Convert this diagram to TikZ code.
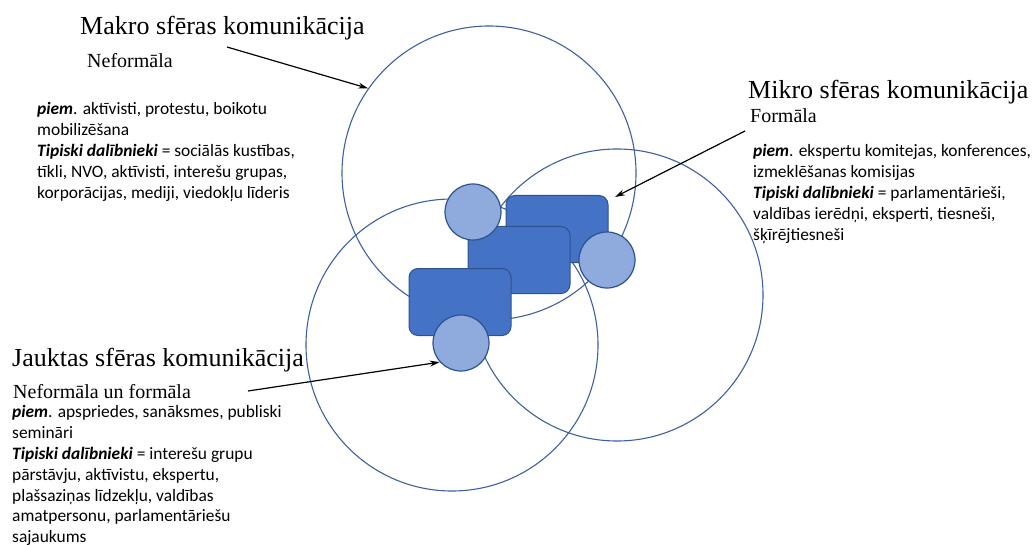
\documentclass[tikz,border=0pt]{standalone}
\usepackage{fontspec}
\setmainfont{Liberation Serif}
\newfontfamily\bodyfont{Carlito}
\usetikzlibrary{arrows.meta}
\definecolor{ringblue}{RGB}{62,96,160}
\definecolor{cardblue}{HTML}{4472C4}
\definecolor{bubbleblue}{HTML}{8FAADC}
\definecolor{edgeblue}{HTML}{2F528F}
\tikzset{
    sphere/.style={
        draw=ringblue,line width=1.1pt,
        circle,inner sep=0,minimum size=#1
    },
    card/.style={
        draw=edgeblue,line width=1pt,fill=cardblue,
        rounded corners=9pt,
        minimum width=102pt,minimum height=67pt
    },
    bubble/.style={
        draw=edgeblue,line width=1.2pt,fill=bubbleblue,
        circle,inner sep=0,minimum size=56pt
    },
    heading/.style={anchor=base west,inner sep=0,font=\fontsize{26}{30}\selectfont},
    subheading/.style={anchor=base west,inner sep=0,font=\fontsize{20}{24}\selectfont},
    notes/.style={
        anchor=north west,inner sep=0,align=left,
        font=\bodyfont\fontsize{17.4}{20.9}\selectfont
    },
    >={Stealth[length=10pt,width=6pt]}
}

\begin{document}
\begin{tikzpicture}[x=1pt,y=-1pt]
\useasboundingbox (0,0) rectangle (1032,545);
\node[sphere=294pt] (makro) at (489,173) {};
\node[sphere=292pt] (mikro) at (617,295) {};
\node[sphere=292pt] (jaukta) at (452,345) {};
% cards first, bubbles on top
\foreach \i/\x/\y in {1/557/229,2/519/260,3/460/302}
    \node[card] (card_\i) at (\x,\y) {};
\foreach \i/\x/\y in {1/473/212,2/607/260,3/461/343}
    \node[bubble] (bubble_\i) at (\x,\y) {};

\node[heading] (makro_title) at (80,35) {Makro sfēras komunikācija};
\node[subheading] (makro_sub) at (87,68) {Neformāla};
\node[notes] (makro_notes) at (37,102) {\textbf{\textit{piem}}. aktīvisti, protestu, boikotu\\
mobilizēšana\\
\textbf{\textit{Tipiski dalībnieki}} = sociālās kustības,\\
tīkli, NVO, aktīvisti, interešu grupas,\\
korporācijas, mediji, viedokļu līderis};

\node[heading] (mikro_title) at (748,99) {Mikro sfēras komunikācija};
\node[subheading] (mikro_sub) at (750,123) {Formāla};
\node[notes] (mikro_notes) at (753,144) {\textbf{\textit{piem}}. ekspertu komitejas, konferences,\\
izmeklēšanas komisijas\\
\textbf{\textit{Tipiski dalībnieki}} = parlamentārieši,\\
valdības ierēdņi, eksperti, tiesneši,\\
šķīrējtiesneši};

\node[heading] (jaukta_title) at (12,366) {Jauktas sfēras komunikācija};
\node[subheading] (jaukta_sub) at (13,398) {Neformāla un formāla};
\node[notes] (jaukta_notes) at (12,405) {\textbf{\textit{piem}}. apspriedes, sanāksmes, publiski\\
semināri\\
\textbf{\textit{Tipiski dalībnieki}} = interešu grupu\\
pārstāvju, aktīvistu, ekspertu,\\
plašsaziņas līdzekļu, valdības\\
amatpersonu, parlamentāriešu\\
sajaukums};

\coordinate (makro_from) at (227,47);
\coordinate (mikro_from) at (745,131);
\coordinate (mikro_to) at (615,197);
\coordinate (jaukta_from) at (248,391);
\draw[->,line width=1.2pt] (makro_from) -- (makro.145);
\draw[->,line width=1.2pt] (mikro_from) -- (mikro_to);
\draw[->,line width=1.2pt] (jaukta_from) -- (bubble_3.222);
\end{tikzpicture}
\end{document}
